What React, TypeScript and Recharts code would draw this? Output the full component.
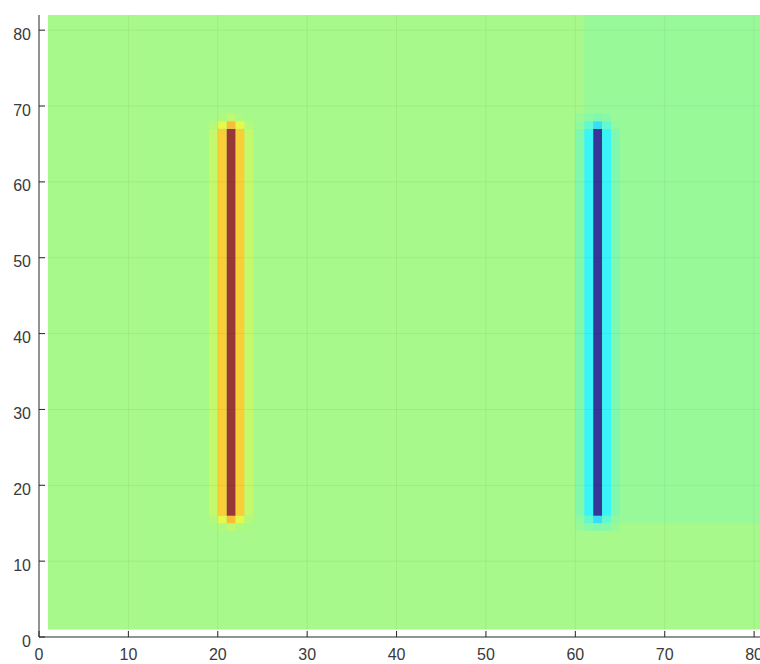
import React from 'react';
import { ComposedChart, XAxis, YAxis, ReferenceArea, ReferenceLine } from 'recharts';

// Axis ticks
const xTicks = [0, 10, 20, 30, 40, 50, 60, 70, 80];
const yTicks = [0, 10, 20, 30, 40, 50, 60, 70, 80];
const gridLineTicks = [10, 20, 30, 40, 50, 60, 70, 80];

// Extent of the sampled potential grid (cell edges) and of the axes
const gridStart = 1;
const gridEnd = 82;
const axisMax = 82;

// Potential of the open field, normalised to [0, 1]
const backgroundValue = 0.518;
// Field to the right of the negative plate (x >= 61, y >= 15)
const rightRegionX = 61;
const rightRegionY = 15;
const rightRegionValue = 0.5;

// Rows covered by both plates
const plateRowStart = 16;
const plateRowEnd = 67;

// Positive plate: columns and potential across it
const leftColumns = [19, 20, 21, 22, 23];
const leftBody = [0.555, 0.68, 1.0, 0.68, 0.555];
const leftCapNear = [0.535, 0.6, 0.7, 0.6, 0.535];
const leftCapFar = [0.52, 0.53, 0.55, 0.53, 0.52];

// Negative plate
const rightColumns = [60, 61, 62, 63, 64];
const rightBody = [0.47, 0.37, 0.0, 0.37, 0.47];
const rightCapNear = [0.49, 0.43, 0.34, 0.43, 0.49];
const rightCapFar = [0.5, 0.48, 0.47, 0.48, 0.5];

type Cell = { x0: number; x1: number; y0: number; y1: number; value: number };

const cells: Cell[] = [];
cells.push({ x0: gridStart, x1: gridEnd, y0: gridStart, y1: gridEnd, value: backgroundValue });
cells.push({ x0: rightRegionX, x1: gridEnd, y0: rightRegionY, y1: gridEnd, value: rightRegionValue });

function addPlate(cols: number[], body: number[], near: number[], far: number[]) {
  cols.forEach((col, i) => {
    cells.push({ x0: col, x1: col + 1, y0: plateRowStart - 2, y1: plateRowStart - 1, value: far[i] });
    cells.push({ x0: col, x1: col + 1, y0: plateRowStart - 1, y1: plateRowStart, value: near[i] });
    cells.push({ x0: col, x1: col + 1, y0: plateRowStart, y1: plateRowEnd, value: body[i] });
    cells.push({ x0: col, x1: col + 1, y0: plateRowEnd, y1: plateRowEnd + 1, value: near[i] });
    cells.push({ x0: col, x1: col + 1, y0: plateRowEnd + 1, y1: plateRowEnd + 2, value: far[i] });
  });
}
addPlate(leftColumns, leftBody, leftCapNear, leftCapFar);
addPlate(rightColumns, rightBody, rightCapNear, rightCapFar);

// Jet colour map, drawn semi-transparent over white
function jet(v: number): string {
  const c = (t: number) => Math.max(0, Math.min(1, t));
  const r = c(Math.min(4 * v - 1.5, -4 * v + 4.5));
  const g = c(Math.min(4 * v - 0.5, -4 * v + 3.5));
  const b = c(Math.min(4 * v + 0.5, -4 * v + 2.5));
  const mix = (t: number) => Math.round(0.975 * 255 * (0.22 + 0.78 * t));
  return `rgb(${mix(r)},${mix(g)},${mix(b)})`;
}

const axisColor = '#262626';
const textColor = '#3a3a3a';
const fontFamily = '"Liberation Sans", Arial, Helvetica, sans-serif';

const XTick = (props: any) => {
  const { x, y, payload } = props;
  return (
    <g>
      <line x1={x} y1={y} x2={x} y2={y - 6} stroke={axisColor} strokeWidth={1} />
      <text x={x} y={y + 23} textAnchor="middle" fill={textColor} fontSize={16} fontFamily={fontFamily}>
        {payload.value}
      </text>
    </g>
  );
};

const YTick = (props: any) => {
  const { x, y, payload } = props;
  return (
    <g>
      <line x1={x} y1={y} x2={x + 6} y2={y} stroke={axisColor} strokeWidth={1} />
      <text x={x - 8} y={y + 9.5} textAnchor="end" fill={textColor} fontSize={16} fontFamily={fontFamily}>
        {payload.value}
      </text>
    </g>
  );
};

export default function App() {
  return (
    <div
      style={{
        position: 'fixed',
        left: 0,
        top: 0,
        width: 760,
        height: 664,
        overflow: 'hidden',
        background: '#ffffff',
      }}
    >
      <ComposedChart
        width={772}
        height={664}
        data={[]}
        margin={{ top: 15, right: 0, bottom: 0, left: 0 }}
      >
        {cells.map((cell, i) => (
          <ReferenceArea
            key={`cell-${i}`}
            x1={cell.x0}
            x2={cell.x1}
            y1={cell.y0}
            y2={cell.y1}
            fill={jet(cell.value)}
            fillOpacity={1}
            stroke="none"
            ifOverflow="visible"
            isAnimationActive={false}
          />
        ))}
        {gridLineTicks.map((t) => (
          <ReferenceLine key={`gx-${t}`} x={t} stroke="#000000" strokeOpacity={0.05} strokeWidth={1} ifOverflow="visible" />
        ))}
        {gridLineTicks.map((t) => (
          <ReferenceLine key={`gy-${t}`} y={t} stroke="#000000" strokeOpacity={0.05} strokeWidth={1} ifOverflow="visible" />
        ))}
        <XAxis
          type="number"
          dataKey="x"
          domain={[0, axisMax]}
          ticks={xTicks}
          interval={0}
          allowDataOverflow
          height={27}
          tickSize={0}
          tickMargin={0}
          tickLine={false}
          axisLine={{ stroke: axisColor, strokeWidth: 1 }}
          tick={<XTick />}
        />
        <YAxis
          type="number"
          dataKey="y"
          domain={[0, axisMax]}
          ticks={yTicks}
          interval={0}
          allowDataOverflow
          width={39}
          tickSize={0}
          tickMargin={0}
          tickLine={false}
          axisLine={{ stroke: axisColor, strokeWidth: 1 }}
          tick={<YTick />}
        />
      </ComposedChart>
    </div>
  );
}
